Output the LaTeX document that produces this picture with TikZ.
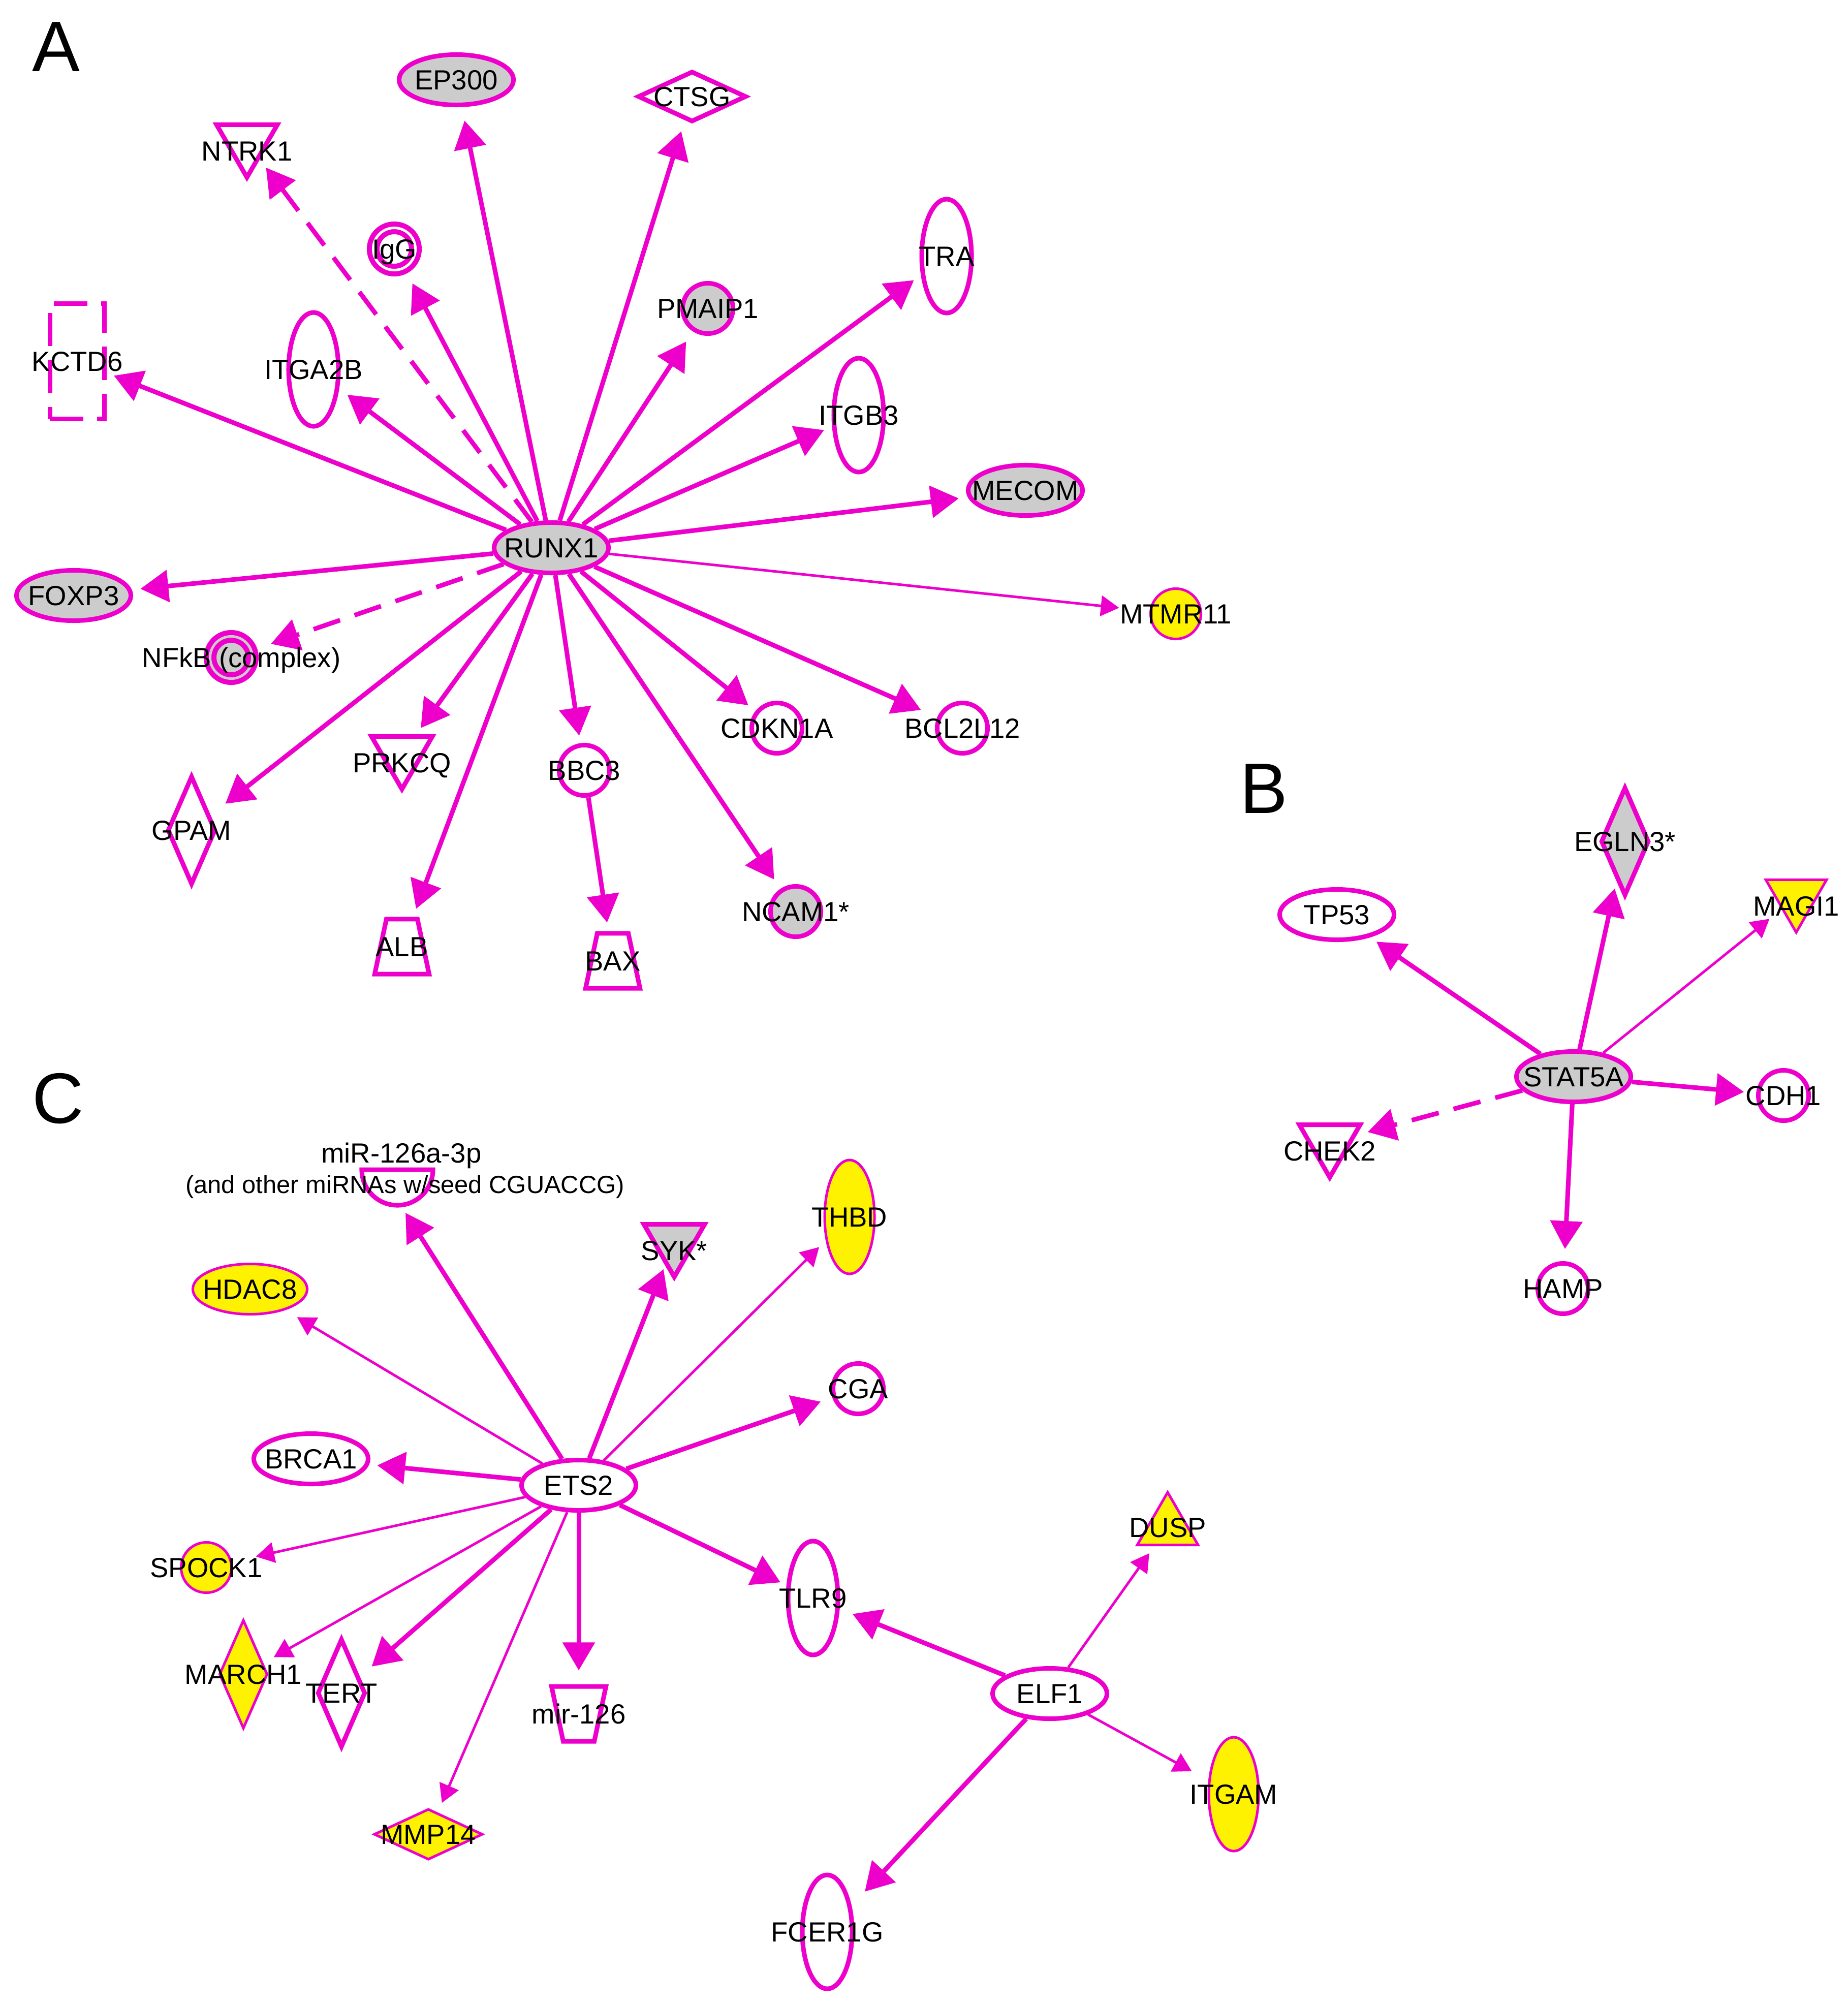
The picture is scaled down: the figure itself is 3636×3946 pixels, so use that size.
\documentclass[tikz,border=0pt]{standalone}
\usepackage{fontspec}
\setmainfont{Liberation Sans}
\usetikzlibrary{shapes.geometric,arrows.meta,backgrounds}
\definecolor{ipamag}{RGB}{238,0,204}
\definecolor{ipagry}{RGB}{204,204,204}
\begin{document}
\begin{tikzpicture}[x=0.01cm,y=-0.01cm,font=\fontsize{15.5}{18}\selectfont,
    >={Triangle[length=0.55cm,width=0.62cm]},
    gene/.style={draw=ipamag,line width=0.09cm,fill=white,inner sep=0pt},
    gry/.style={fill=ipagry},
    yel/.style={fill=yellow,line width=0.05cm},
    oval/.style={gene,ellipse,minimum width=2.25cm,minimum height=0.99cm},
    tall/.style={gene,ellipse,minimum width=0.98cm,minimum height=2.24cm},
    round/.style={gene,circle,minimum size=0.99cm},
    ring/.style={gene,circle,line width=0.1cm,double=white,double distance=0.05cm,minimum size=0.83cm},
    diam/.style={gene,diamond,minimum width=0.95cm,minimum height=2.14cm},
    flatdiam/.style={gene,diamond,minimum width=2.14cm,minimum height=1.0cm},
    tridown/.style={gene,regular polygon,regular polygon sides=3,shape border rotate=180,minimum size=1.38cm},
    triup/.style={gene,regular polygon,regular polygon sides=3,minimum size=1.38cm},
    trap/.style={gene,trapezium,trapezium angle=78,trapezium stretches body,inner xsep=0pt,inner ysep=0.54cm,minimum width=1.07cm},
    trapdown/.style={trap,shape border rotate=180},
    box/.style={gene,rectangle,dash pattern=on 0.65cm off 0.27cm,minimum width=1.07cm,minimum height=2.27cm},
    every label/.style={inner sep=0pt,text height=11.1pt,text depth=0pt},
    lbldown/.style={yshift=-0.17cm},
    txt/.style={inner sep=0pt,text height=11.1pt,text depth=0pt},
    panel/.style={font=\fontsize{40}{48}\selectfont,inner sep=0pt,text height=28.6pt,text depth=0pt},
    link/.style={draw=ipamag,line width=0.09cm,->,shorten >=0.2cm},
    thinlink/.style={link,line width=0.05cm,-{Triangle[length=0.36cm,width=0.4cm]}},
    dashlink/.style={link,dash pattern=on 0.55cm off 0.3cm}]
    \useasboundingbox (0,0) rectangle (3636,3946);
    \begin{scope}[on background layer]
        \fill[white] (0,0) rectangle (3636,3946);
    \end{scope}
    % A: RUNX1
    \node[panel] (panA) at (110,90) {A};
    \node[oval,gry,label=center:RUNX1] (runx1) at (1085,1078) {};
    \node[oval,gry,label=center:EP300] (ep300) at (898,157) {};
    \node[flatdiam,label=center:CTSG] (ctsg) at (1362,190) {};
    \node[tridown,label={[lbldown]center:NTRK1}] (ntrk1) at (486,280) {};
    \node[ring,label=center:IgG] (igg) at (776,490) {};
    \node[box,label=center:KCTD6] (kctd6) at (152,711) {};
    \node[tall,label=center:ITGA2B] (itga2b) at (617,727) {};
    \node[round,gry,label=center:PMAIP1] (pmaip1) at (1393,607) {};
    \node[tall,label=center:TRA] (tra) at (1863,504) {};
    \node[tall,label=center:ITGB3] (itgb3) at (1690,817) {};
    \node[oval,gry,label=center:MECOM] (mecom) at (2018,965) {};
    \node[round,yel,label=center:MTMR11] (mtmr11) at (2314,1208) {};
    \node[oval,gry,label=center:FOXP3] (foxp3) at (145,1172) {};
    \node[ring,fill=ipagry,double=ipagry,label={[xshift=0.2cm]center:NFkB (complex)}] (nfkb) at (455,1294) {};
    \node[tridown,label={[lbldown]center:PRKCQ}] (prkcq) at (791,1484) {};
    \node[diam,label=center:GPAM] (gpam) at (377,1634) {};
    \node[trap,label=center:ALB] (alb) at (791,1863) {};
    \node[round,label=center:BBC3] (bbc3) at (1150,1516) {};
    \node[trap,label=center:BAX] (bax) at (1206,1891) {};
    \node[round,gry,label=center:NCAM1*] (ncam1) at (1566,1794) {};
    \node[round,label=center:CDKN1A] (cdkn1a) at (1529,1433) {};
    \node[round,label=center:BCL2L12] (bcl2l12) at (1894,1433) {};
    % B: STAT5A
    \node[panel] (panB) at (2487,1550) {B};
    \node[oval,gry,label=center:STAT5A] (stat5a) at (3097,2119) {};
    \node[diam,gry,label=center:EGLN3*] (egln3) at (3198,1656) {};
    \node[oval,label=center:TP53] (tp53) at (2631,1800) {};
    \node[tridown,yel,label={[lbldown]center:MAGI1}] (magi1) at (3535,1766) {};
    \node[round,label=center:CDH1] (cdh1) at (3510,2156) {};
    \node[tridown,label={[lbldown]center:CHEK2}] (chek2) at (2617,2248) {};
    \node[round,label=center:HAMP] (hamp) at (3076,2536) {};
    % C: ETS2 and ELF1
    \node[panel] (panC) at (114,2160) {C};
    \node[oval,label=center:ETS2] (ets2) at (1139,2923) {};
    \draw[draw=ipamag,line width=0.09cm,fill=white] (712,2302) -- (852,2302) arc[start angle=0,end angle=-180,radius=0.7cm] -- cycle;
    \node[txt] (mirname) at (790,2269) {miR-126a-3p};
    \node[txt,font=\fontsize{13.9}{16}\selectfont,text height=10pt] (mirseed) at (797,2331) {(and other miRNAs w/seed CGUACCG)};
    \coordinate (mir126a) at (798,2387);
    \node[oval,yel,label=center:HDAC8] (hdac8) at (492,2537) {};
    \node[oval,label=center:BRCA1] (brca1) at (612,2871) {};
    \node[round,yel,label=center:SPOCK1] (spock1) at (406,3085) {};
    \node[diam,yel,label=center:MARCH1] (march1) at (479,3295) {};
    \node[diam,label=center:TERT] (tert) at (672,3332) {};
    \node[flatdiam,yel,label=center:MMP14] (mmp14) at (843,3610) {};
    \node[trapdown,label=center:mir-126] (mir126) at (1139,3373) {};
    \node[tridown,gry,label={[lbldown]center:SYK*}] (syk) at (1327,2444) {};
    \node[tall,yel,label=center:THBD] (thbd) at (1672,2395) {};
    \node[round,label=center:CGA] (cga) at (1689,2733) {};
    \node[tall,label=center:TLR9] (tlr9) at (1600,3145) {};
    \node[tall,label=center:FCER1G] (fcer1g) at (1628,3802) {};
    \node[oval,label=center:ELF1] (elf1) at (2066,3333) {};
    \node[triup,yel,label=center:DUSP] (dusp) at (2298,3006) {};
    \node[tall,yel,label=center:ITGAM] (itgam) at (2428,3531) {};
    \begin{scope}[on background layer]
        \draw[link,shorten >=0.15cm] (runx1) -- (kctd6);
        \draw[link] (runx1) -- (itga2b);
        \draw[dashlink] (runx1) -- (ntrk1);
        \draw[link,shorten >=0.3cm] (runx1) -- (igg);
        \draw[link,shorten >=0.27cm] (runx1) -- (ep300);
        \draw[link,shorten >=0.22cm] (runx1) -- (ctsg);
        \draw[link,shorten >=0.24cm] (runx1) -- (pmaip1);
        \draw[link,shorten >=0.17cm] (runx1) -- (tra);
        \draw[link,shorten >=0.17cm] (runx1) -- (itgb3);
        \draw[link,shorten >=0.18cm] (runx1) -- (mecom);
        \draw[thinlink,shorten >=0.6cm] (runx1) -- (mtmr11);
        \draw[link,shorten >=0.17cm] (runx1) -- (foxp3);
        \draw[dashlink,shorten >=0.36cm] (runx1) -- (nfkb);
        \draw[link,shorten >=0.36cm] (runx1) -- (gpam);
        \draw[link,shorten >=0.15cm] (runx1) -- (prkcq);
        \draw[link,shorten >=0.17cm] (runx1) -- (alb);
        \draw[link,shorten >=0.15cm] (runx1) -- (bbc3);
        \draw[link,shorten >=0.17cm] (bbc3) -- (bax);
        \draw[link,shorten >=0.22cm] (runx1) -- (ncam1);
        \draw[link,shorten >=0.18cm] (runx1) -- (cdkn1a);
        \draw[link,shorten >=0.35cm] (runx1) -- (bcl2l12);
        \draw[link,shorten >=0.15cm] (stat5a) -- (tp53);
        \draw[link,shorten >=0.17cm] (stat5a) -- (egln3);
        \draw[thinlink,shorten >=0.3cm] (stat5a) -- (magi1);
        \draw[link,shorten >=0.24cm] (stat5a) -- (cdh1);
        \draw[link,shorten >=0.24cm] (stat5a) -- (hamp);
        \draw[dashlink,shorten >=0.22cm] (stat5a) -- (chek2);
        \draw[link,shorten >=0pt] (ets2) -- (mir126a);
        \draw[thinlink,shorten >=0.27cm] (ets2) -- (hdac8);
        \draw[link,shorten >=0.08cm] (ets2) -- (syk);
        \draw[thinlink,shorten >=0.18cm] (ets2) -- (thbd);
        \draw[link,shorten >=0.24cm] (ets2) -- (cga);
        \draw[link,shorten >=0.16cm] (ets2) -- (brca1);
        \draw[thinlink,shorten >=0.48cm] (ets2) -- (spock1);
        \draw[thinlink,shorten >=0.23cm] (ets2) -- (march1);
        \draw[link,shorten >=0.3cm] (ets2) -- (tert);
        \draw[thinlink,shorten >=0.2cm] (ets2) -- (mmp14);
        \draw[link,shorten >=0.27cm] (ets2) -- (mir126);
        \draw[link,shorten >=0.13cm] (ets2) -- (tlr9);
        \draw[link,shorten >=0.27cm] (elf1) -- (tlr9);
        \draw[thinlink,shorten >=0.17cm] (elf1) -- (dusp);
        \draw[thinlink,shorten >=0.37cm] (elf1) -- (itgam);
        \draw[link,shorten >=0.38cm] (elf1) -- (fcer1g);
    \end{scope}
\end{tikzpicture}
\end{document}
